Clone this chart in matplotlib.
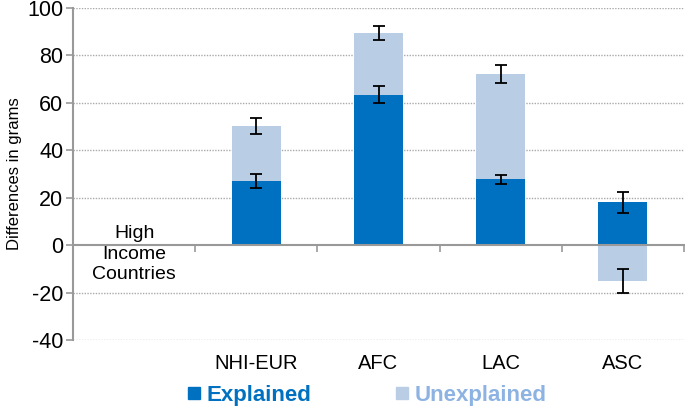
import matplotlib.pyplot as plt
from matplotlib.lines import Line2D
import numpy as np

plt.rcParams['font.family'] = ['Liberation Sans', 'DejaVu Sans']
plt.rcParams['axes.unicode_minus'] = False

# data
regions = ["NHI-EUR", "AFC", "LAC", "ASC"]
explained = [27.0, 63.4, 27.7, 18.0]
unexplained = [23.3, 25.9, 44.4, -15.2]
err_expl = [2.8, 3.5, 1.8, 4.4]
err_unexpl = [3.5, 3.0, 3.7, 5.0]
base_label = "High\nIncome\nCountries"

C_EXPL = '#0070C0'
C_UNEX = '#B9CDE5'
C_UNEX_TXT = '#8DB3E2'
GRAY = '#999999'

fig = plt.figure(figsize=(6.85, 4.08), dpi=100)
ax = fig.add_axes([73/685, 1-340/408, 611/685, 332/408])

x = np.arange(1, len(regions)+1)
expl = np.array(explained)
unex = np.array(unexplained)
bottoms = np.where(unex > 0, expl, 0)

ax.bar(x, expl, width=0.4, color=C_EXPL, zorder=2)
ax.bar(x, unex, width=0.4, bottom=bottoms, color=C_UNEX, zorder=2)

ekw = dict(fmt='none', ecolor='black', elinewidth=1.3, capsize=4, capthick=1.3, zorder=3)
ax.errorbar(x, expl, yerr=err_expl, **ekw)
ax.errorbar(x, bottoms + unex, yerr=err_unexpl, **ekw)

ax.set_xlim(-0.5, len(regions)+0.5)
ax.set_ylim(-40, 100)
ax.set_yticks(np.arange(-40, 101, 20))
for v in np.arange(-40, 101, 20):
    if v != 0:
        ax.axhline(v, color='#aaaaaa', lw=1, ls=(0, (1, 1)), zorder=1)

for s in ['top', 'right']:
    ax.spines[s].set_visible(False)
ax.spines['left'].set_color(GRAY)
ax.spines['left'].set_linewidth(1.5)
ax.spines['bottom'].set_position(('data', 0))
ax.spines['bottom'].set_color(GRAY)
ax.spines['bottom'].set_linewidth(1.5)

ax.set_xticks(np.arange(0.5, len(regions)+1, 1))
ax.set_xticklabels([])
ax.tick_params(axis='x', direction='out', length=5, width=1.2, color=GRAY)
ax.tick_params(axis='y', direction='out', length=5, width=1.2, color=GRAY,
               labelsize=15.5, pad=2)

for xi, name in zip(x, regions):
    ax.text(xi, -49.8, name, ha='center', va='center', fontsize=14.5)
ax.text(0, -3.8, base_label, ha='center', va='center', fontsize=14,
        linespacing=1.25)

ax.set_ylabel("Differences in grams", fontsize=12, labelpad=4)

handles = [Line2D([], [], ls='', marker='s', markersize=9, color=C_EXPL),
           Line2D([], [], ls='', marker='s', markersize=9, color=C_UNEX)]
leg = fig.legend(handles, ["Explained", "Unexplained"], loc='center',
                 bbox_to_anchor=(367/685, 1-395/408), ncol=2, frameon=False,
                 handlelength=0.6, handletextpad=0.25, columnspacing=3.8,
                 prop={'size': 16, 'weight': 'bold'})
leg.get_texts()[0].set_color(C_EXPL)
leg.get_texts()[1].set_color(C_UNEX_TXT)

fig.savefig("out.png", dpi=100)
